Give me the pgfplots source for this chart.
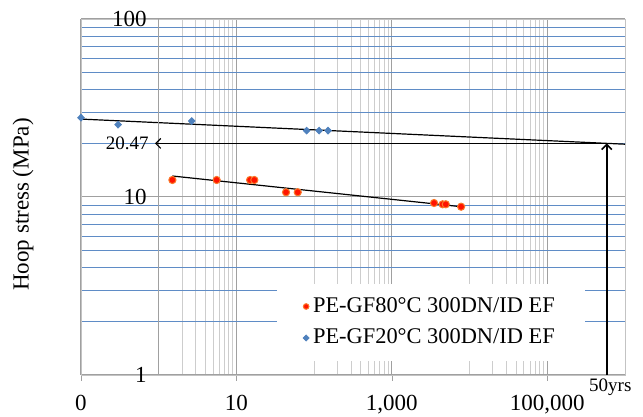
\documentclass[border=0pt]{standalone}
\usepackage{fontspec}
\setmainfont{Liberation Serif}
\usepackage{pgfplots}
\usepackage{pgfplotstable}
\pgfplotsset{compat=1.18}
\usetikzlibrary{arrows.meta,calc}

\definecolor{ptblue}{RGB}{79,129,189}
\definecolor{gridblue}{RGB}{95,140,198}
\definecolor{gridmin}{RGB}{205,205,205}
\definecolor{gridmaj}{RGB}{160,160,160}
\definecolor{framec}{RGB}{195,195,195}
\definecolor{ptred}{RGB}{255,20,0}
\definecolor{ptedge}{RGB}{250,120,40}

\pgfplotsset{
  dot legend/.style={legend image code/.code={\draw[##1, mark size=1.4pt] plot coordinates {(0pt,0pt)};}},
  dia legend/.style={legend image code/.code={\draw[##1, mark size=1.5pt] plot coordinates {(0pt,0pt)};}},
}

% PE-GF 80 C, 300DN/ID EF
\pgfplotstableread{
x     y
1.50  12.46
5.57  12.46
15.0  12.46
17.0  12.46
43.5  10.63
61.5  10.63
3490  9.25
4500  9.10
4940  9.10
7790  8.82
}\redpts

% PE-GF 20 C, 300DN/ID EF
\pgfplotstableread{
x     y
0.10  27.9
0.30  25.5
2.66  26.7
80    23.6
116   23.6
151   23.6
}\bluepts

\begin{document}
\begin{tikzpicture}
\begin{axis}[
  scale only axis, width=272pt, height=178pt,
  xmode=log, ymode=log, xmin=0.1, xmax=1e6, ymin=1, ymax=100,
  xtick={0.1,10,1000,100000}, xticklabels={0,10,{1,000},{100,000}},
  ytick={1,10,100}, yticklabels={1,10,100},
  minor xtick={1,2,3,4,5,6,7,8,9,100,200,300,400,500,600,700,800,900,10000,20000,30000,40000,50000,60000,70000,80000,90000},
  minor ytick={2,3,4,5,6,7,8,9,20,30,40,50,60,70,80,90},
  grid=both,
  major x grid style={gridmaj, line width=0.5pt},
  minor x grid style={gridmin, line width=0.5pt},
  major y grid style={gridmaj, line width=0.5pt},
  minor y grid style={gridblue, line width=0.5pt},
  axis line style={framec},
  tick align=outside, xtick pos=bottom, ytick pos=left,
  major tick length=3pt, minor tick length=0pt,
  xtick style={gridmaj}, ytick style={draw=none},
  tick label style={font=\fontsize{11.5}{13}\selectfont},
  /pgf/number format/assume math mode=true,
  xticklabel style={inner sep=0pt, yshift=-7pt},
  yticklabel style={anchor=east, inner sep=0pt, xshift=36pt},
  ylabel={Hoop stress (MPa)},
  every axis y label/.style={at={(axis description cs:-0.1066,0.479)}, rotate=90, anchor=center, font=\fontsize{11.5}{13}\selectfont},
  legend style={at={(0.36,0.258)}, anchor=north west, draw=none, fill=white,
    inner xsep=13pt, inner ysep=5pt, row sep=2.8pt, font=\fontsize{11.2}{13}\selectfont},
  legend cell align=left,
]
\addplot[only marks, mark=*, mark size=1.8pt, mark options={fill=ptred, draw=ptedge, line width=0.5pt}, dot legend]
  table[x=x, y=y] {\redpts};
\addlegendentry{PE-GF80°C 300DN/ID EF}
\addplot[only marks, mark=diamond*, mark size=1.7pt, mark options={fill=ptblue, draw=ptblue, xscale=1.3}, dia legend]
  table[x=x, y=y] {\bluepts};
\addlegendentry{PE-GF20°C 300DN/ID EF}
% power trend lines
\addplot[black, line width=0.6pt, no marks, forget plot] coordinates {(0.1,27.4) (1e6,19.8)};
\addplot[black, line width=0.6pt, no marks, forget plot] coordinates {(1.50,13.12) (7790,8.82)};
% vertical axis crossing at x = 1
\draw[gridmaj, line width=0.6pt] (axis cs:1,1) -- (axis cs:1,100);
\draw[gridmaj, line width=0.5pt] (axis cs:1,1) -- ++(-3pt,0pt);
\coordinate (tipL) at (axis cs:0.895,20.0);
\coordinate (tipR) at (axis cs:5.83e5,20.0);
\coordinate (base) at (axis cs:5.83e5,1);
\coordinate (bl) at (rel axis cs:0,0);
\coordinate (tr) at (rel axis cs:1,1);
\end{axis}
\draw[black, line width=0.6pt, -{Straight Barb[length=2.5pt,width=5pt]}] (tipR) -- (tipL);
\draw[black, line width=0.8pt, -{Straight Barb[length=2.5pt,width=5pt]}] (base) -- (tipR);
\node[anchor=east, inner sep=0pt, font=\fontsize{9.5}{11}\selectfont] at ($(tipL)+(-3pt,0pt)$) {20.47};
\node[anchor=north, inner sep=0pt, font=\fontsize{9.5}{11}\selectfont] at ($(base)+(1.75pt,-1.5pt)$) {50yrs};
\pgfresetboundingbox
\path[use as bounding box] ($(bl)+(-40.5pt,-21pt)$) rectangle ($(tr)+(9pt,9.5pt)$);
\end{tikzpicture}
\end{document}
